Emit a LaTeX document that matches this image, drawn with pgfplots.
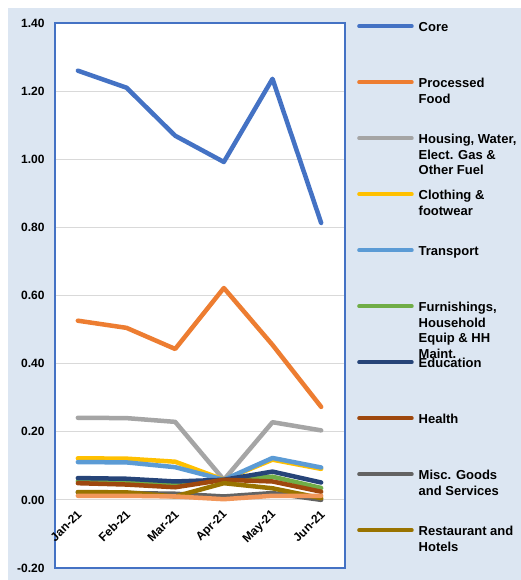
\documentclass[border=0pt]{standalone}
\usepackage{fontspec}
\setmainfont{Liberation Sans}
\usepackage{pgfplots}
\pgfplotsset{compat=1.18}
\definecolor{bg}{HTML}{DCE6F2}
\definecolor{cA}{HTML}{4472C4}
\definecolor{cB}{HTML}{ED7D31}
\definecolor{cC}{HTML}{A5A5A5}
\definecolor{cD}{HTML}{FFC000}
\definecolor{cE}{HTML}{5B9BD5}
\definecolor{cF}{HTML}{70AD47}
\definecolor{cG}{HTML}{264478}
\definecolor{cH}{HTML}{9E480E}
\definecolor{cI}{HTML}{636363}
\definecolor{cJ}{HTML}{997300}
\definecolor{cK}{HTML}{F1975A}
\definecolor{gridc}{HTML}{D9D9D9}
\newcommand{\lentry}[1]{\raisebox{-2pt}[9pt][0pt]{\parbox[t]{120pt}{\raggedright #1}}}
\begin{document}
\begin{tikzpicture}
\path[use as bounding box] (0,0) rectangle (521pt,580pt);
\fill[white] (0,0) rectangle (521pt,580pt);
\fill[bg] (8pt,0) rectangle (521pt,572pt);
\begin{axis}[
  at={(55pt,12pt)}, anchor=south west,
  scale only axis, width=290pt, height=545pt,
  xmin=-0.47, xmax=5.49, ymin=-0.2, ymax=1.4,
  xtick={0,1,2,3,4,5},
  xticklabels={Jan-21,Feb-21,Mar-21,Apr-21,May-21,Jun-21},
  ytick={-0.2,0,0.2,0.4,0.6,0.8,1.0,1.2,1.4},
  major tick length=0pt,
  ymajorgrids, grid style={draw=gridc, line width=1pt},
  axis background/.style={fill=white},
  axis line style={draw=cA, line width=1.6pt},
  /pgf/number format/assume math mode=true,
  tick label style={font=\bfseries\fontsize{12}{14}\selectfont},
  yticklabel style={/pgf/number format/fixed, /pgf/number format/fixed zerofill, /pgf/number format/precision=2, xshift=-7pt},
  x tick label style={xshift=4pt, yshift=58pt, rotate=45, anchor=east},
  legend cell align=left,
  legend image code/.code={\draw[#1, line width=3.5pt, line cap=round] (0pt,0pt) -- (53pt,0pt); \path[draw=none, fill=none] (0pt,9pt) -- (0pt,-47pt);},
  legend style={draw=none, fill=none, at={(1,1)}, anchor=north west, xshift=12pt, yshift=6pt,
    inner sep=0pt, row sep=0pt, column sep=5pt, nodes={inner sep=0pt},
    font=\bfseries\fontsize{13}{15.5}\selectfont},
  every axis plot/.append style={line width=4.5pt, line join=round, line cap=round, mark=none},
]
\addplot[cA] coordinates {(0,1.26) (1,1.21) (2,1.069) (3,0.992) (4,1.236) (5,0.813)};
\addlegendentry{\lentry{Core}}
\addplot[cB] coordinates {(0,0.526) (1,0.505) (2,0.443) (3,0.622) (4,0.455) (5,0.273)};
\addlegendentry{\lentry{Processed\\Food}}
\addplot[cC] coordinates {(0,0.241) (1,0.240) (2,0.229) (3,0.059) (4,0.228) (5,0.204)};
\addlegendentry{\lentry{Housing, Water,\\Elect. Gas \&\\Other Fuel}}
\addplot[cD] coordinates {(0,0.122) (1,0.121) (2,0.112) (3,0.059) (4,0.118) (5,0.091)};
\addlegendentry{\lentry{Clothing \&\\footwear}}
\addplot[cE] coordinates {(0,0.111) (1,0.110) (2,0.096) (3,0.059) (4,0.123) (5,0.095)};
\addlegendentry{\lentry{Transport}}
\addplot[cF] coordinates {(0,0.055) (1,0.052) (2,0.045) (3,0.059) (4,0.068) (5,0.035)};
\addlegendentry{\lentry{Furnishings,\\Household\\Equip \& HH\\Maint.}}
\addplot[cG] coordinates {(0,0.064) (1,0.062) (2,0.054) (3,0.059) (4,0.083) (5,0.051)};
\addlegendentry{\lentry{Education}}
\addplot[cH] coordinates {(0,0.049) (1,0.045) (2,0.037) (3,0.059) (4,0.054) (5,0.024)};
\addlegendentry{\lentry{Health}}
\addplot[cI] coordinates {(0,0.022) (1,0.020) (2,0.018) (3,0.010) (4,0.020) (5,0.000)};
\addlegendentry{\lentry{Misc. Goods\\and Services}}
\addplot[cJ] coordinates {(0,0.023) (1,0.022) (2,0.010) (3,0.049) (4,0.034) (5,0.005)};
\addlegendentry{\lentry{Restaurant and\\Hotels}}
\addplot[cK] coordinates {(0,0.012) (1,0.012) (2,0.010) (3,0.002) (4,0.012) (5,0.012)};
\end{axis}
\end{tikzpicture}
\end{document}
